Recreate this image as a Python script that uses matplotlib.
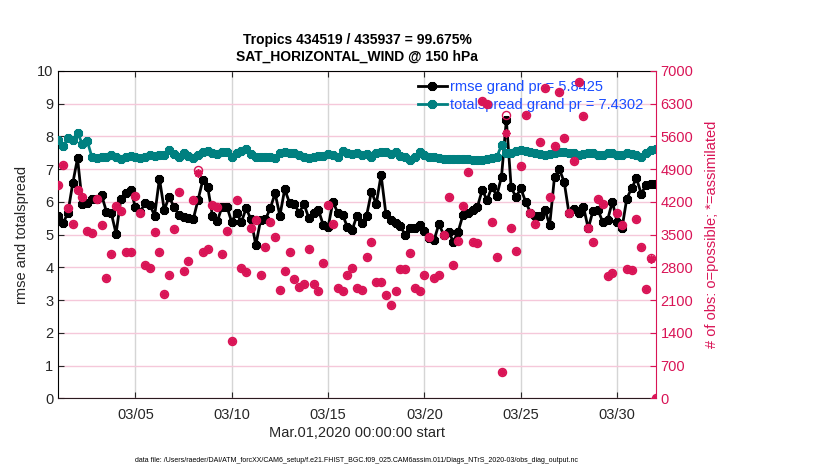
import matplotlib
matplotlib.use("Agg")
import matplotlib.pyplot as plt
import matplotlib.dates as mdates
import numpy as np
import pandas as pd

plt.rcParams['font.family'] = ['Liberation Sans', 'DejaVu Sans']

# ---- data (6-hourly, Mar 01 00Z .. Apr 01 00Z) ----
start_time = "2020-03-01 00:00"
n_times = 125

rmse = [5.57, 5.34, 5.67, 6.56, 7.33, 5.93, 5.97, 6.07, 6.10, 6.20,
        5.70, 5.65, 5.03, 6.10, 6.28, 6.36, 5.85, 5.70, 5.95, 5.90,
        5.58, 6.71, 5.75, 6.15, 5.85, 5.60, 5.55, 5.50, 5.46, 6.05,
        6.66, 6.46, 5.58, 5.40, 5.85, 5.85, 5.38, 5.67, 5.38, 5.80,
        5.46, 4.68, 5.44, 5.46, 5.80, 6.26, 5.58, 6.38, 5.97, 5.93,
        5.67, 5.93, 5.50, 5.65, 5.75, 5.29, 5.22, 6.00, 5.67, 5.60,
        5.24, 5.14, 5.58, 5.36, 5.58, 6.31, 5.93, 6.82, 5.63, 5.44,
        5.36, 5.26, 4.99, 5.20, 5.20, 5.29, 5.12, 4.88, 4.83, 5.32,
        4.99, 5.09, 4.78, 5.09, 5.60, 5.65, 5.75, 5.85, 6.36, 6.05,
        6.46, 6.18, 6.77, 8.50, 6.44, 6.14, 6.41, 6.00, 5.67, 5.57,
        5.57, 5.75, 5.29, 6.77, 6.99, 6.61, 5.65, 5.77, 5.65, 5.85,
        5.19, 5.73, 5.75, 5.39, 5.44, 6.00, 5.39, 5.19, 6.10, 6.41,
        6.72, 6.24, 6.52, 6.55, 6.55]

totalspread = [7.89, 7.70, 7.94, 7.89, 8.11, 7.76, 7.86, 7.36, 7.33, 7.36,
               7.38, 7.43, 7.38, 7.30, 7.36, 7.40, 7.38, 7.33, 7.38, 7.43,
               7.40, 7.43, 7.43, 7.58, 7.46, 7.38, 7.48, 7.40, 7.35, 7.43,
               7.53, 7.56, 7.48, 7.45, 7.53, 7.53, 7.36, 7.48, 7.56, 7.60,
               7.45, 7.36, 7.38, 7.36, 7.36, 7.33, 7.48, 7.53, 7.50, 7.48,
               7.43, 7.38, 7.33, 7.38, 7.40, 7.40, 7.45, 7.43, 7.36, 7.56,
               7.48, 7.46, 7.48, 7.43, 7.45, 7.36, 7.48, 7.53, 7.53, 7.46,
               7.53, 7.40, 7.36, 7.28, 7.38, 7.53, 7.43, 7.38, 7.36, 7.33,
               7.30, 7.31, 7.30, 7.30, 7.30, 7.30, 7.28, 7.28, 7.28, 7.31,
               7.33, 7.36, 7.73, 7.48, 7.48, 7.56, 7.58, 7.56, 7.53, 7.50,
               7.46, 7.43, 7.45, 7.48, 7.53, 7.53, 7.50, 7.48, 7.43, 7.45,
               7.48, 7.48, 7.43, 7.43, 7.48, 7.50, 7.43, 7.43, 7.48, 7.46,
               7.43, 7.36, 7.50, 7.58, 7.60]

obs_possible = [4560, 4980, 4070, 3720, 4450, 4310, 3580, 3530, 4270, 3700,
                2565, 3090, 4100, 4010, 3135, 3135, 4325, 3955, 2855, 2790,
                3560, 3135, 2225, 2635, 3610, 4400, 2720, 2935, 4235, 4880,
                3135, 3185, 4130, 4095, 3085, 3585, 1225, 4235, 2780, 2705,
                3630, 3820, 2630, 3225, 3775, 3455, 2315, 2720, 3135, 2545,
                2385, 2435, 3190, 2435, 2290, 2885, 4130, 3725, 2350, 2290,
                2635, 2780, 2350, 2315, 3010, 3347, 2480, 2480, 2210, 1995,
                2290, 2757, 2757, 3115, 2350, 2290, 2635, 3455, 2563, 2635,
                3490, 4310, 2850, 3360, 4115, 4845, 3345, 3325, 6360, 6280,
                3775, 3015, 565, 6055, 3630, 3155, 4970, 6055, 3970, 3725,
                5485, 6625, 4310, 5390, 6555, 5555, 3970, 5070, 6770, 6035,
                3630, 3330, 4260, 4160, 2610, 2670, 3955, 3700, 2755, 2740,
                3825, 3225, 2335, 3000, 0]

obs_assimilated = [4560, 4980, 4070, 3720, 4450, 4310, 3580, 3530, 4270, 3700,
                   2565, 3090, 4100, 4010, 3135, 3135, 4325, 3955, 2855, 2790,
                   3560, 3135, 2225, 2635, 3610, 4400, 2720, 2935, 4235, 4810,
                   3135, 3185, 4130, 4095, 3085, 3585, 1225, 4235, 2780, 2705,
                   3630, 3820, 2630, 3225, 3775, 3455, 2315, 2720, 3135, 2545,
                   2385, 2435, 3190, 2435, 2290, 2885, 4130, 3725, 2350, 2290,
                   2635, 2780, 2350, 2315, 3010, 3347, 2480, 2480, 2210, 1995,
                   2290, 2757, 2757, 3115, 2350, 2290, 2635, 3455, 2563, 2635,
                   3490, 4310, 2850, 3360, 4115, 4845, 3345, 3325, 6360, 6280,
                   3775, 3015, 565, 5663, 3630, 3155, 4970, 6055, 3970, 3725,
                   5485, 6625, 4310, 5390, 6555, 5555, 3970, 5070, 6770, 6035,
                   3630, 3330, 4260, 4160, 2610, 2670, 3955, 3700, 2755, 2740,
                   3825, 3225, 2335, 2975, 0]

tick_dates = ["2020-03-05", "2020-03-10", "2020-03-15", "2020-03-20",
              "2020-03-25", "2020-03-30"]
left_ticks = list(range(0, 11))
right_ticks = list(range(0, 7001, 700))

rmse_label = "rmse grand pr = 5.8425"
spread_label = "totalspread grand pr = 7.4302"
title_text = "Tropics 434519 / 435937 = 99.675%\nSAT_HORIZONTAL_WIND @ 150 hPa"
xlabel_text = "Mar.01,2020 00:00:00 start"
ylabel_left = "rmse and totalspread"
ylabel_right = "# of obs: o=possible; *=assimilated"
file_text = ("data file: /Users/raeder/DAI/ATM_forcXX/CAM6_setup/"
             "f.e21.FHIST_BGC.f09_025.CAM6assim.011/Diags_NTrS_2020-03/obs_diag_output.nc")

# ---- styling ----
TEAL = "#008080"
CRIMSON = "#D91456"
BLUE = "#1a4dff"
DARK = "#262626"
ASTER = (8, 2, 0)

times = pd.date_range(start_time, periods=n_times, freq="6h")

fig = plt.figure(figsize=(8.3, 4.7), dpi=100)
ax = fig.add_axes([0.0702, 0.1526, 0.7198, 0.6968])

ax.plot(times, rmse, color="black", lw=2.0, marker=ASTER, ms=6.5, mew=2.2,
        label=rmse_label, zorder=3)
ax.plot(times, totalspread, color=TEAL, lw=2.0, marker=ASTER, ms=6.5, mew=2.2,
        label=spread_label, zorder=3)

ax.set_xlim(times[0], times[-1])
ax.set_ylim(0, 10)
ax.set_yticks(left_ticks)
ax.set_xticks(pd.to_datetime(tick_dates))
ax.xaxis.set_major_formatter(mdates.DateFormatter("%m/%d"))

ax.yaxis.grid(True, color="#F5C8DA", lw=1.0)
ax.xaxis.grid(True, color="#D5D5D5", lw=1.0)
ax.set_axisbelow(True)

ax.tick_params(axis="both", direction="in", labelsize=10.5, colors=DARK,
               length=4, top=True)
ax.tick_params(axis="x", pad=7)
for s in ["left", "top"]:
    ax.spines[s].set_color("black")
ax.spines["bottom"].set_color("#2a1a1f")
ax.spines["right"].set_visible(False)

ax.set_xlabel(xlabel_text, fontsize=10.5, color=DARK, labelpad=3)
ax.set_ylabel(ylabel_left, fontsize=10.5, color=DARK, labelpad=6)
ax.set_title(title_text, fontsize=10, fontweight="bold", color="black", pad=7,
             linespacing=1.25)

leg = ax.legend(loc="upper right", bbox_to_anchor=(0.979, 0.972), frameon=False,
                fontsize=10.5, handlelength=2.0, handletextpad=0.2,
                borderpad=0, borderaxespad=0, labelspacing=0.28)
for t in leg.get_texts():
    t.set_color(BLUE)

ax2 = ax.twinx()
ax2.set_ylim(0, 7000)
ax2.set_yticks(right_ticks)
ax2.plot(times, obs_possible, linestyle="none", marker="o", ms=5.8,
         mfc="none", mec=CRIMSON, mew=1.0)
ax2.plot(times, obs_assimilated, linestyle="none", marker=ASTER, ms=5.8,
         mec=CRIMSON, mew=1.3)
ax2.tick_params(axis="y", direction="in", labelsize=10.5, colors=CRIMSON,
                length=4)
ax2.spines["right"].set_color(CRIMSON)
ax2.spines["left"].set_visible(False)
ax2.spines["top"].set_visible(False)
ax2.spines["bottom"].set_visible(False)
ax2.set_ylabel(ylabel_right, fontsize=10.5, color=CRIMSON, labelpad=8)

fig.text(0.43, 0.016, file_text, fontsize=5.0, color="black", ha="center")

fig.savefig("out.png", dpi=100)
